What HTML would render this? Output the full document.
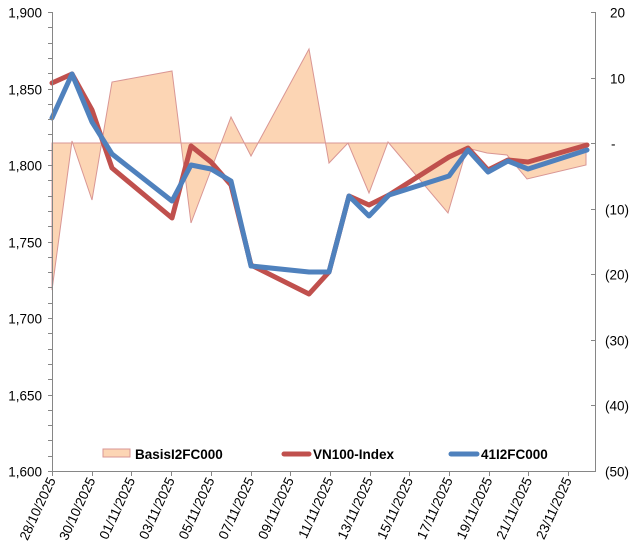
<!DOCTYPE html>
<html><head><meta charset="utf-8"><style>
html,body{margin:0;padding:0;background:#fff}
svg text{font-family:"Liberation Sans",Arial,sans-serif;font-size:13.5px;fill:#000}
</style></head><body>
<svg width="640" height="548" viewBox="0 0 640 548" xmlns="http://www.w3.org/2000/svg">
<polygon fill="#fcd5b4" stroke="#d99694" stroke-width="1" points="52,143 52,290 72,141 92,200 112,82 172,71 191,223 211,170 231,117 251,156 309,49 329,163 348,143 369,193 388,142 448,213 467,148 487,153 507,155 527,179 586,165 586,143"/>
<line x1="52" y1="143" x2="586" y2="143" stroke="#d99694" stroke-width="1"/>
<polyline fill="none" stroke="#c0504d" stroke-width="5" stroke-linejoin="round" stroke-linecap="round" points="52,83 72,74 92,110 112,168 172,218 191,146 211,162 231,185 251,265 309,294 329,272 349,196 369,205 389,195 449,157 468,148 488,170 508,160 528,162 587,145"/>
<polyline fill="none" stroke="#4f81bd" stroke-width="5" stroke-linejoin="round" stroke-linecap="round" points="52,118 72,74 92,122 112,154 172,201 191,165 211,169 231,181 251,266 309,272 329,272 349,196 369,216 389,195 449,176 468,150 488,172 508,161 528,169 587,150"/>
<g stroke="#868686" stroke-width="1">
<line x1="52.5" y1="12" x2="52.5" y2="471"/>
<line x1="52" y1="471.5" x2="596" y2="471.5"/>
<line x1="595.5" y1="12" x2="595.5" y2="471"/>
</g>
<g stroke="#868686" stroke-width="1" id="lt"></g>
<g id="ll" text-anchor="end"></g>
<g id="rl"></g>
<g id="xl"></g>
<rect x="103" y="449" width="27" height="8" fill="#fcd5b4" stroke="#d99694"/>
<text x="135" y="459" font-weight="bold">BasisI2FC000</text>
<line x1="284" y1="454" x2="309" y2="454" stroke="#c0504d" stroke-width="5" stroke-linecap="round"/>
<text x="313" y="459" font-weight="bold">VN100-Index</text>
<line x1="451" y1="454" x2="477" y2="454" stroke="#4f81bd" stroke-width="5" stroke-linecap="round"/>
<text x="481" y="459" font-weight="bold">41I2FC000</text>
</svg>
<script>
var ns="http://www.w3.org/2000/svg",s=document.querySelector('svg');
function el(t,a,txt,p){var e=document.createElementNS(ns,t);for(var k in a)e.setAttribute(k,a[k]);if(txt)e.textContent=txt;(p||s).appendChild(e);return e;}
var lt=document.getElementById('lt'),ll=document.getElementById('ll'),rl=document.getElementById('rl'),xl=document.getElementById('xl');
for(var v=1600;v<=1900;v+=10){var y=471-(v-1600)*459/300;y=Math.round(y)+0.5;el('line',{x1:48,y1:y,x2:52,y2:y},null,lt);
 if(v%50==0)el('text',{x:42,y:y+5},(v/1000).toFixed(3).replace('.',','),ll);}
var rv=[20,10,0,-10,-20,-30,-40,-50];
rv.forEach(function(v){var y=471-(v+50)*459/70;y=Math.round(y)+0.5;el('line',{x1:591,y1:y,x2:595,y2:y},null,lt);
 el('text',{x:v==0?611:(v>0?610:605),y:y+5},v==0?'-':(v>0?v:'('+(-v)+')'),rl);});
var d=['28/10/2025','30/10/2025','01/11/2025','03/11/2025','05/11/2025','07/11/2025','09/11/2025','11/11/2025','13/11/2025','15/11/2025','17/11/2025','19/11/2025','21/11/2025','23/11/2025'];
d.forEach(function(t,i){var x=52+i*39.7;var xr=Math.round(x)+0.5;el('line',{x1:xr,y1:471,x2:xr,y2:476},null,lt);
 el('text',{x:x+4,y:480,'text-anchor':'end',transform:'rotate(-65 '+(x+4)+' 480)'},t,xl);});
</script>
</body></html>
